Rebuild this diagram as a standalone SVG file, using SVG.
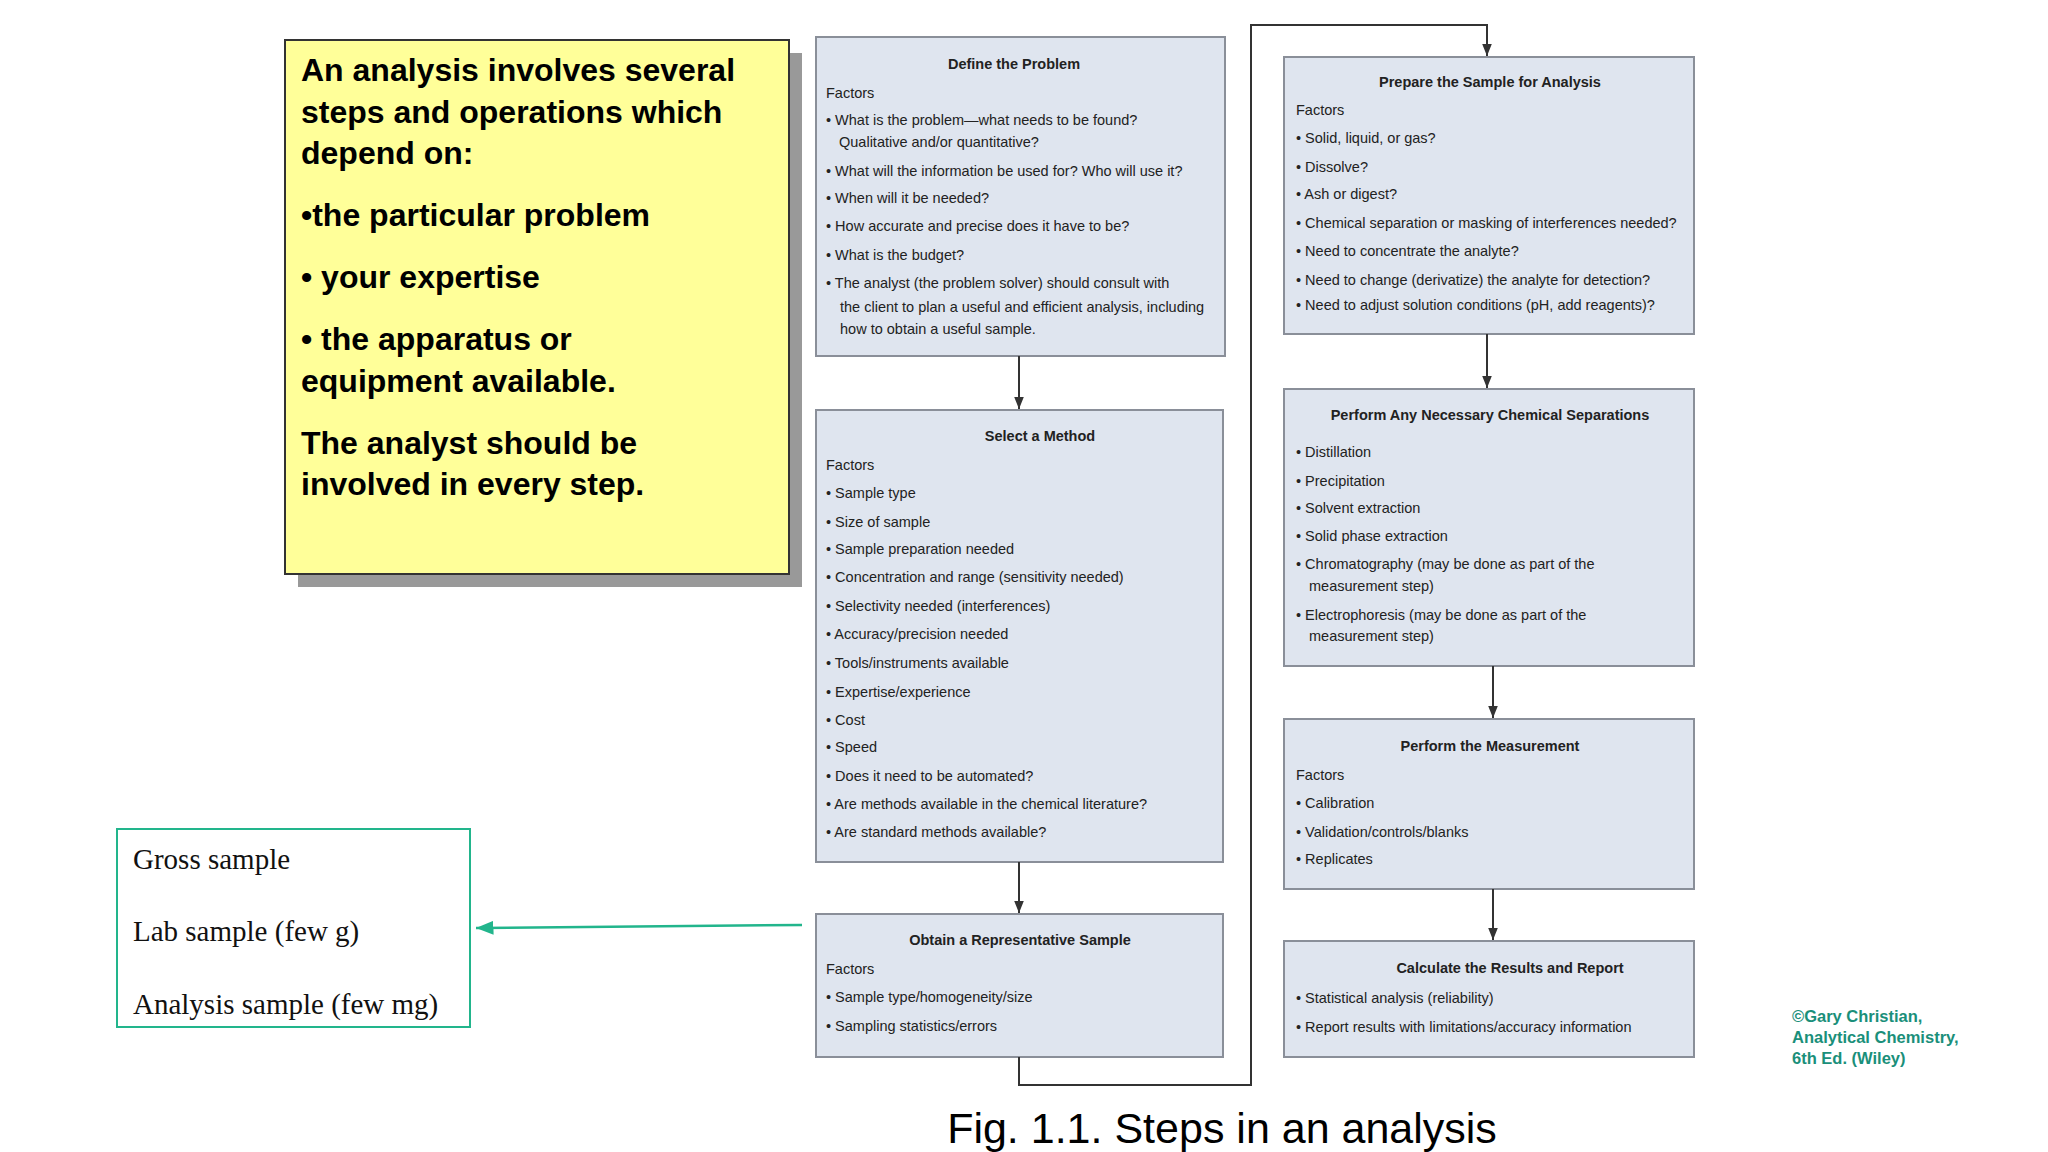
<svg xmlns="http://www.w3.org/2000/svg" width="2048" height="1152" viewBox="0 0 2048 1152">
<defs>
<marker id="ah" viewBox="0 0 10 10" refX="10" refY="5" markerWidth="6" markerHeight="6" orient="auto"><path d="M0,1 L10,5 L0,9 z" fill="#333"/></marker>
<marker id="ga" viewBox="0 0 10 10" refX="10" refY="5" markerWidth="7" markerHeight="7" orient="auto"><path d="M0,1 L10,5 L0,9 z" fill="#22b58c"/></marker>
</defs>
<style>
.box{fill:#dfe5ef;stroke:#8a8f99;stroke-width:2}
.t{font-family:"Liberation Sans",Arial,sans-serif;font-size:14.5px;fill:#222}
.h{font-weight:bold;text-anchor:middle}
.y{font-family:"Liberation Sans",Arial,sans-serif;font-size:32px;font-weight:bold;fill:#000}
.g{font-family:"Liberation Serif","Times New Roman",serif;font-size:29px;fill:#111}
.c{stroke:#333;stroke-width:2;fill:none}
</style>
<rect width="2048" height="1152" fill="#fff"/>
<g id="intro">
<rect x="298" y="53" width="504" height="534" fill="#999"/>
<rect x="285" y="40" width="504" height="534" fill="#ffff99" stroke="#333" stroke-width="2"/>
<text class="y" x="301" y="81">An analysis involves several</text>
<text class="y" x="301" y="123">steps and operations which</text>
<text class="y" x="301" y="164">depend on:</text>
<text class="y" x="301" y="226">•the particular problem</text>
<text class="y" x="301" y="288">• your expertise</text>
<text class="y" x="301" y="350">• the apparatus or</text>
<text class="y" x="301" y="392">equipment available.</text>
<text class="y" x="301" y="454">The analyst should be</text>
<text class="y" x="301" y="495">involved in every step.</text>
</g>
<g id="samples">
<rect x="117" y="829" width="353" height="198" fill="#fff" stroke="#22b58c" stroke-width="2"/>
<text class="g" x="133" y="869">Gross sample</text>
<text class="g" x="133" y="941">Lab sample (few g)</text>
<text class="g" x="133" y="1014">Analysis sample (few mg)</text>
</g>
<g id="define">
<rect class="box" x="816" y="37" width="409" height="319"/>
<text class="t h" x="1014" y="69">Define the Problem</text>
<text class="t" x="826" y="98">Factors</text>
<text class="t" x="826" y="125">•  What is the problem—what needs to be found?</text>
<text class="t" x="839" y="147">Qualitative and/or quantitative?</text>
<text class="t" x="826" y="176">•  What will the information be used for? Who will use it?</text>
<text class="t" x="826" y="203">•  When will it be needed?</text>
<text class="t" x="826" y="231">•  How accurate and precise does it have to be?</text>
<text class="t" x="826" y="260">•  What is the budget?</text>
<text class="t" x="826" y="288">•  The analyst (the problem solver) should consult with</text>
<text class="t" x="840" y="312">the client to plan a useful and efficient analysis, including</text>
<text class="t" x="840" y="334">how to obtain a useful sample.</text>
</g>
<g id="select">
<rect class="box" x="816" y="410" width="407" height="452"/>
<text class="t h" x="1040" y="441">Select a Method</text>
<text class="t" x="826" y="470">Factors</text>
<text class="t" x="826" y="498">•  Sample type</text>
<text class="t" x="826" y="527">•  Size of sample</text>
<text class="t" x="826" y="554">•  Sample preparation needed</text>
<text class="t" x="826" y="582">•  Concentration and range (sensitivity needed)</text>
<text class="t" x="826" y="611">•  Selectivity needed (interferences)</text>
<text class="t" x="826" y="639">•  Accuracy/precision needed</text>
<text class="t" x="826" y="668">•  Tools/instruments available</text>
<text class="t" x="826" y="697">•  Expertise/experience</text>
<text class="t" x="826" y="725">•  Cost</text>
<text class="t" x="826" y="752">•  Speed</text>
<text class="t" x="826" y="781">•  Does it need to be automated?</text>
<text class="t" x="826" y="809">•  Are methods available in the chemical literature?</text>
<text class="t" x="826" y="837">•  Are standard methods available?</text>
</g>
<g id="obtain">
<rect class="box" x="816" y="914" width="407" height="143"/>
<text class="t h" x="1020" y="945">Obtain a Representative Sample</text>
<text class="t" x="826" y="974">Factors</text>
<text class="t" x="826" y="1002">•  Sample type/homogeneity/size</text>
<text class="t" x="826" y="1031">•  Sampling statistics/errors</text>
</g>
<g id="prepare">
<rect class="box" x="1284" y="57" width="410" height="277"/>
<text class="t h" x="1490" y="87">Prepare the Sample for Analysis</text>
<text class="t" x="1296" y="115">Factors</text>
<text class="t" x="1296" y="143">•  Solid, liquid, or gas?</text>
<text class="t" x="1296" y="172">•  Dissolve?</text>
<text class="t" x="1296" y="199">•  Ash or digest?</text>
<text class="t" x="1296" y="228">•  Chemical separation or masking of interferences needed?</text>
<text class="t" x="1296" y="256">•  Need to concentrate the analyte?</text>
<text class="t" x="1296" y="285">•  Need to change (derivatize) the analyte for detection?</text>
<text class="t" x="1296" y="310">•  Need to adjust solution conditions (pH, add reagents)?</text>
</g>
<g id="separations">
<rect class="box" x="1284" y="389" width="410" height="277"/>
<text class="t h" x="1490" y="420">Perform Any Necessary Chemical Separations</text>
<text class="t" x="1296" y="457">•  Distillation</text>
<text class="t" x="1296" y="486">•  Precipitation</text>
<text class="t" x="1296" y="513">•  Solvent extraction</text>
<text class="t" x="1296" y="541">•  Solid phase extraction</text>
<text class="t" x="1296" y="569">•  Chromatography (may be done as part of the</text>
<text class="t" x="1309" y="591">measurement step)</text>
<text class="t" x="1296" y="620">•  Electrophoresis (may be done as part of the</text>
<text class="t" x="1309" y="641">measurement step)</text>
</g>
<g id="measurement">
<rect class="box" x="1284" y="719" width="410" height="170"/>
<text class="t h" x="1490" y="751">Perform the Measurement</text>
<text class="t" x="1296" y="780">Factors</text>
<text class="t" x="1296" y="808">•  Calibration</text>
<text class="t" x="1296" y="837">•  Validation/controls/blanks</text>
<text class="t" x="1296" y="864">•  Replicates</text>
</g>
<g id="calculate">
<rect class="box" x="1284" y="941" width="410" height="116"/>
<text class="t h" x="1510" y="973">Calculate the Results and Report</text>
<text class="t" x="1296" y="1003">•  Statistical analysis (reliability)</text>
<text class="t" x="1296" y="1032">•  Report results with limitations/accuracy information</text>
</g>
<g id="connectors">
<line class="c" x1="1019" y1="356" x2="1019" y2="409" marker-end="url(#ah)"/>
<line class="c" x1="1019" y1="862" x2="1019" y2="913" marker-end="url(#ah)"/>
<polyline class="c" points="1019,1057 1019,1085 1251,1085 1251,25 1487,25 1487,56" marker-end="url(#ah)"/>
<line class="c" x1="1487" y1="334" x2="1487" y2="388" marker-end="url(#ah)"/>
<line class="c" x1="1493" y1="666" x2="1493" y2="718" marker-end="url(#ah)"/>
<line class="c" x1="1493" y1="889" x2="1493" y2="940" marker-end="url(#ah)"/>
<line x1="802" y1="925" x2="476" y2="928" stroke="#22b58c" stroke-width="2.5" marker-end="url(#ga)"/>
</g>
<g id="credit" font-family="Liberation Sans,Arial,sans-serif" font-size="16.5" font-weight="bold" fill="#1a8f7a">
<text x="1792" y="1022">©Gary Christian,</text>
<text x="1792" y="1043">Analytical Chemistry,</text>
<text x="1792" y="1064">6th Ed. (Wiley)</text>
</g>
<text x="1222" y="1143" text-anchor="middle" font-family="Liberation Sans,Arial,sans-serif" font-size="43" fill="#000">Fig. 1.1. Steps in an analysis</text>
</svg>
